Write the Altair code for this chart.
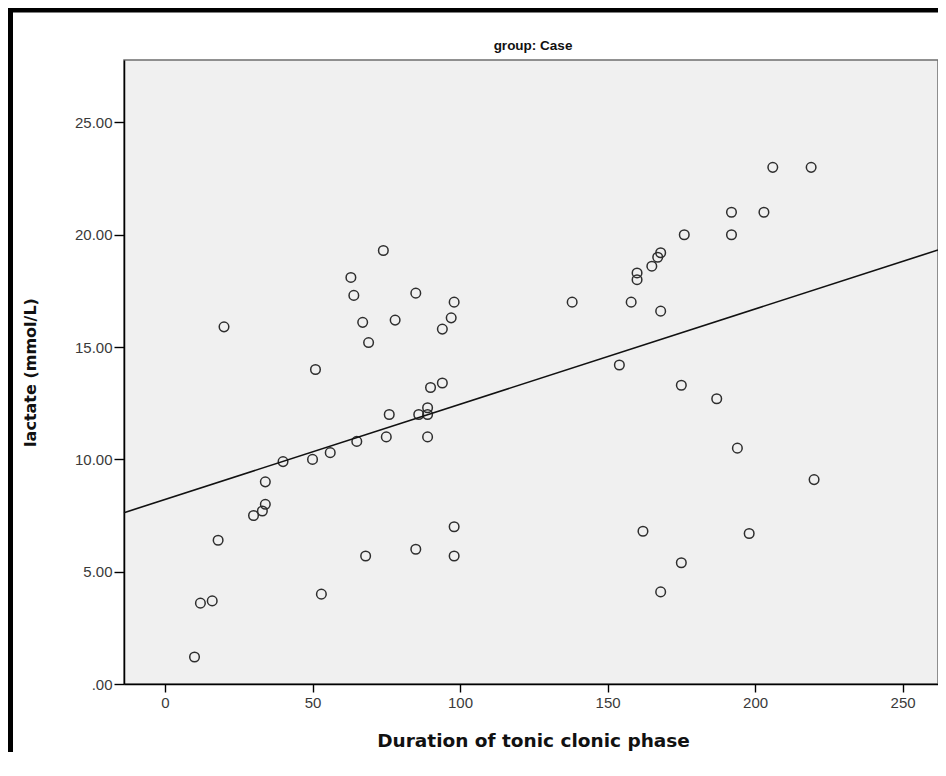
import altair as alt
import pandas as pd

# Data (group: Case)
duration = [10, 12, 16, 18, 20, 30, 33, 34, 34, 40,
            50, 51, 53, 56, 63, 64, 65, 67, 68, 69,
            74, 75, 76, 78, 85, 85, 86, 89, 89, 89,
            90, 94, 94, 97, 98, 98, 98, 138, 154, 158,
            160, 160, 162, 165, 167, 168, 168, 168, 175, 175,
            176, 187, 192, 192, 194, 198, 203, 206, 219, 220]
lactate = [1.2, 3.6, 3.7, 6.4, 15.9, 7.5, 7.7, 8.0, 9.0, 9.9,
           10.0, 14.0, 4.0, 10.3, 18.1, 17.3, 10.8, 16.1, 5.7, 15.2,
           19.3, 11.0, 12.0, 16.2, 6.0, 17.4, 12.0, 12.3, 12.0, 11.0,
           13.2, 15.8, 13.4, 16.3, 17.0, 7.0, 5.7, 17.0, 14.2, 17.0,
           18.0, 18.3, 6.8, 18.6, 19.0, 19.2, 16.6, 4.1, 5.4, 13.3,
           20.0, 12.7, 21.0, 20.0, 10.5, 6.7, 21.0, 23.0, 23.0, 9.1]

x_domain = [-13.9, 262.0]
y_domain = [0, 27.78]
x_ticks = [0, 50, 100, 150, 200, 250]
y_ticks = [0, 5, 10, 15, 20, 25]

df = pd.DataFrame({"duration": duration, "lactate": lactate})
one = pd.DataFrame({"k": [0]})

W, H = 814, 624

x_enc = alt.X("duration:Q",
              scale=alt.Scale(domain=x_domain, nice=False, zero=False),
              axis=alt.Axis(values=x_ticks, title="Duration of tonic clonic phase",
                            titleX=409, titleY=62, titleBaseline="alphabetic",
                            titleAlign="center", titleFontSize=18.5,
                            tickSize=8, labelPadding=3, grid=False))
y_enc = alt.Y("lactate:Q",
              scale=alt.Scale(domain=y_domain, nice=False, zero=False),
              axis=alt.Axis(values=y_ticks, title="lactate (mmol/L)",
                            labelExpr="datum.value == 0 ? '.00' : format(datum.value, '.2f')",
                            titleX=-94, titleY=H / 2, titleAngle=-90,
                            titleBaseline="middle", titleAlign="center",
                            titleFontSize=16,
                            tickSize=10, labelPadding=2, grid=False))

points = alt.Chart(df).mark_point(shape="circle", filled=False, size=92,
                                  strokeWidth=1.5, color="#2e2e2e", opacity=1).encode(
    x=x_enc, y=y_enc)

fit = alt.Chart(df).transform_regression(
    "duration", "lactate", extent=x_domain
).mark_line(color="#111111", strokeWidth=1.6).encode(
    x=alt.X("duration:Q"), y=alt.Y("lactate:Q"))

title = alt.Chart(one).mark_text(
    text="group: Case", font="Liberation Sans Narrow, Arial Narrow, Liberation Sans",
    fontSize=13.5, fontWeight="bold", color="#111111", baseline="alphabetic"
).encode(x=alt.value(409), y=alt.value(-10))

frame_top = alt.Chart(one).mark_rule(color="black", strokeWidth=5).encode(
    x=alt.value(-116), x2=alt.value(W), y=alt.value(-50))
frame_left = alt.Chart(one).mark_rule(color="black", strokeWidth=5).encode(
    x=alt.value(-113.5), y=alt.value(-52), y2=alt.value(H + 70))

chart = alt.layer(points, fit, title, frame_top, frame_left).properties(
    width=W, height=H,
    autosize=alt.AutoSizeParams(type="none"),
    padding={"left": 116, "top": 52, "right": 0, "bottom": 68},
    background="white",
).configure_view(
    fill="#F0F0F0", stroke="#6e6e6e", strokeWidth=1.5
).configure_axis(
    domainColor="black", domainWidth=1.5, tickColor="black", tickWidth=1.4,
    labelFont="Liberation Sans", labelFontSize=15, labelColor="#3a3a3a",
    titleFont="DejaVu Sans", titleFontWeight="bold",
    titleColor="#111111"
)

chart.save("out.html", embed_options={"renderer": "svg", "actions": False})
